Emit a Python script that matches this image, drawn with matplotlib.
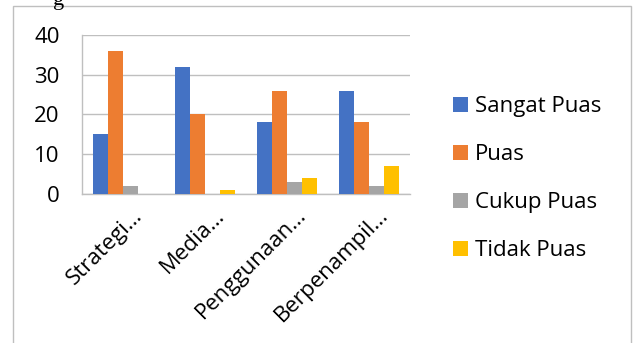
import numpy as np
import matplotlib
matplotlib.use('Agg')
import matplotlib.pyplot as plt
import matplotlib.transforms as mtransforms
from matplotlib.patches import Rectangle

# data
kategori = ['Strategi…', 'Media…', 'Penggunaan…', 'Berpenampil…']
sangat_puas = [15, 32, 18, 26]
puas = [36, 20, 26, 18]
cukup_puas = [2, 0, 3, 2]
tidak_puas = [0, 1, 4, 7]

seri = ['Sangat Puas', 'Puas', 'Cukup Puas', 'Tidak Puas']
warna = ['#4472C4', '#ED7D31', '#A5A5A5', '#FFC000']

plt.rcParams['font.family'] = ['Open Sans', 'DejaVu Sans']

fig = plt.figure(figsize=(6.34, 3.43), dpi=100)
ax = fig.add_axes([0.1293, 0.4344, 0.5174, 0.4636])

x = np.arange(len(kategori))
lebar = 0.183
nilai = [sangat_puas, puas, cukup_puas, tidak_puas]
for i, (nama, val, c) in enumerate(zip(seri, nilai, warna)):
    ax.bar(x + (i - 1.5) * lebar, val, width=lebar, color=c, label=nama, zorder=3)

ax.set_xlim(-0.5, 3.5)
ax.set_ylim(0, 40)
ax.set_yticks([0, 10, 20, 30, 40])
ax.grid(axis='y', color='#BFBFBF', linewidth=1, zorder=0)
ax.set_xticks(x)
ax.set_xticklabels(kategori, rotation=45, ha='right', va='baseline', rotation_mode='anchor')
ax.tick_params(axis='y', length=0, labelsize=16, colors='black', pad=16)
ax.tick_params(axis='x', length=0, labelsize=16, colors='black', pad=16)

# geser label kategori ke kanan (ujung label sedikit di kanan tick)
geser = mtransforms.ScaledTranslation(14.5 / 72, 0, fig.dpi_scale_trans)
for lbl in ax.get_xticklabels():
    lbl.set_transform(lbl.get_transform() + geser)

for s in ['top', 'right']:
    ax.spines[s].set_visible(False)
for s in ['left', 'bottom']:
    ax.spines[s].set_color('#BFBFBF')
    ax.spines[s].set_linewidth(1)

leg = ax.legend(loc='center left', bbox_to_anchor=(0.7145, 0.479),
                bbox_transform=fig.transFigure, frameon=False, borderpad=0,
                borderaxespad=0, fontsize=16, handlelength=0.68, handleheight=0.68,
                handletextpad=0.32, labelspacing=1.22)

# bingkai grafik
fig.add_artist(Rectangle((13 / 634, -0.1), 618 / 634, 1.0825, transform=fig.transFigure,
                         fill=False, edgecolor='#BFBFBF', linewidth=1))

# potongan teks di atas
fig.text(0.083, 1.0, 'g', family='Liberation Serif', fontsize=16, va='center')

fig.savefig('out.png', dpi=100)
